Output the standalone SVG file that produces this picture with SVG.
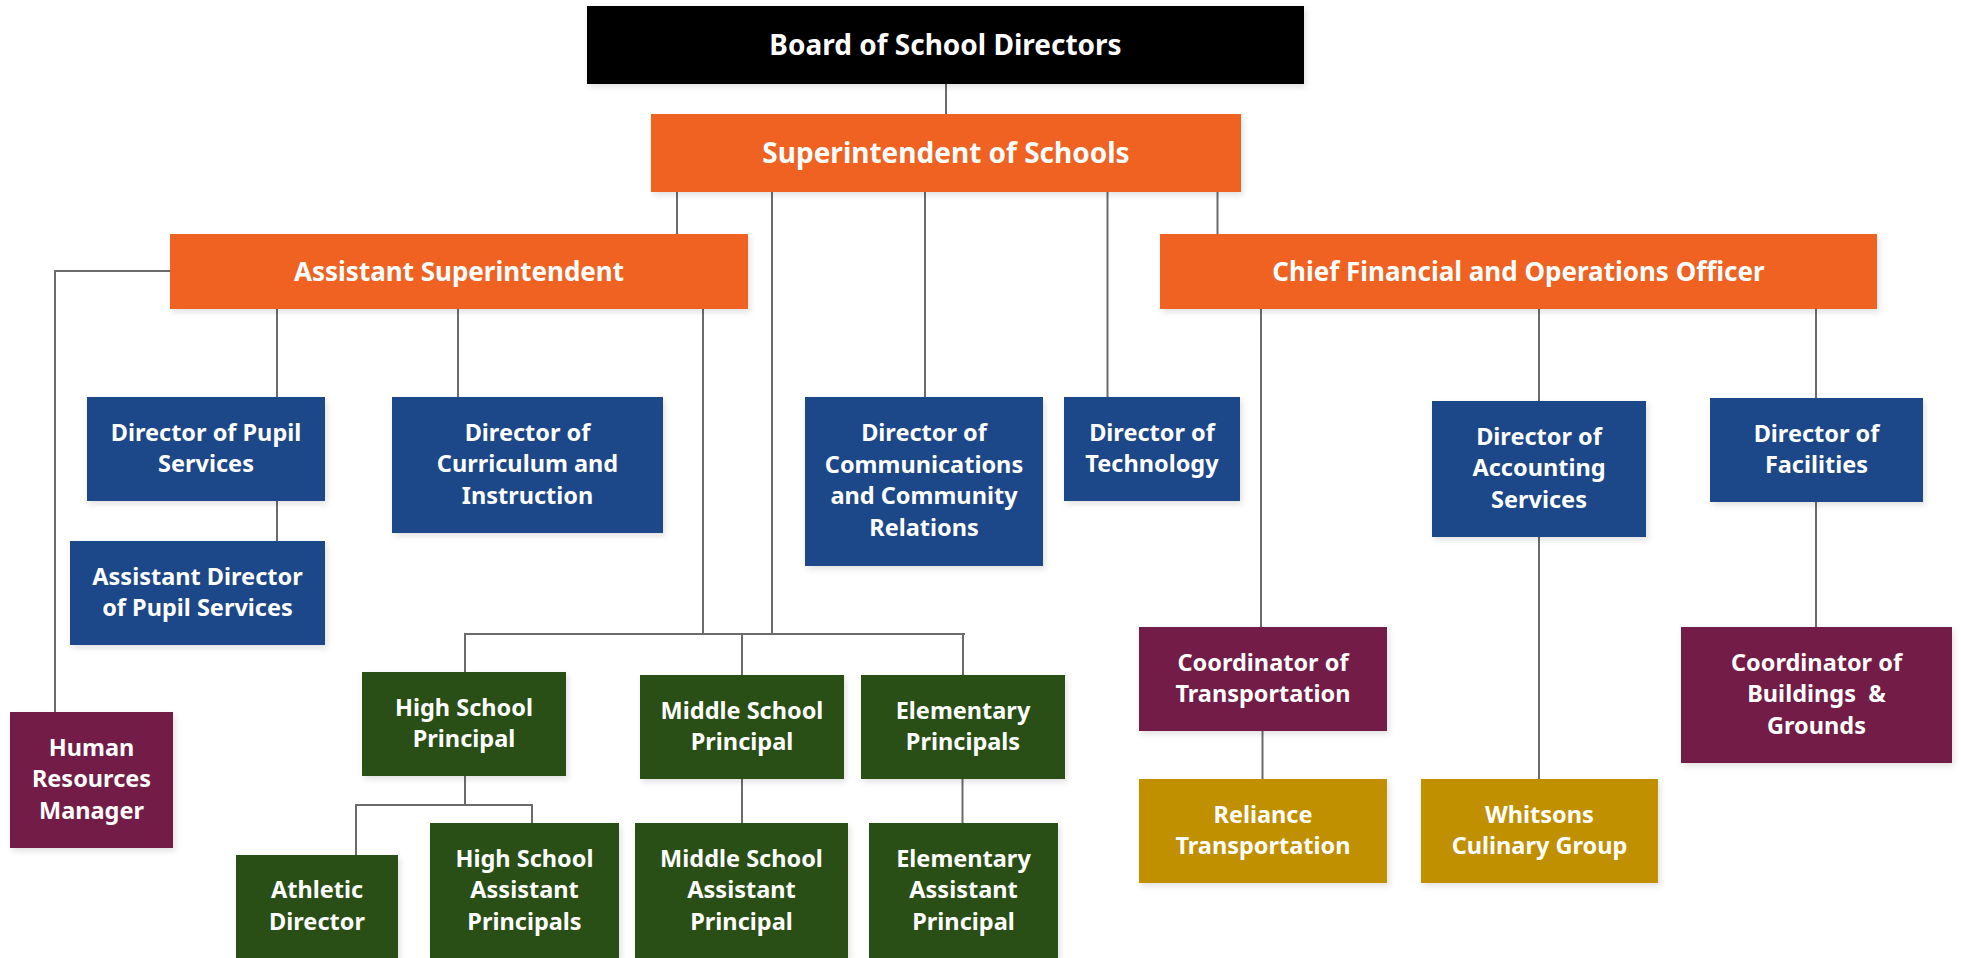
<svg xmlns="http://www.w3.org/2000/svg" width="1961" height="958" viewBox="0 0 1961 958">
<style>
.box{filter:url(#sh)}
.k{fill:#000000}.o{fill:#F06224}.b{fill:#1F4688}.g{fill:#2A5016}.m{fill:#731B46}.y{fill:#C19000}
text{font-family:"Noto Sans","Open Sans","Liberation Sans",sans-serif;font-weight:700;fill:#ffffff;text-anchor:middle;white-space:pre}
.t1{font-size:28px}.t2{font-size:26px}.n{font-size:23.5px;transform:translateY(-1.5px)}
#connectors path{fill:none;stroke:#6b6b6b;stroke-width:2}
</style>
<defs>
<filter id="sh" x="-10%" y="-10%" width="120%" height="130%">
<feDropShadow dx="2" dy="3" stdDeviation="3" flood-color="#000" flood-opacity="0.12"/>
</filter>
</defs>
<rect width="1961" height="958" fill="#ffffff"/>
<g id="connectors">
<path d="M946 84V114"/>
<path d="M677 192V234"/>
<path d="M772 192V634"/>
<path d="M925 192V397"/>
<path d="M1107.5 192V397"/>
<path d="M1217.5 192V234"/>
<path d="M170 271H55V712"/>
<path d="M277 309V397"/>
<path d="M458 309V397"/>
<path d="M703 309V634"/>
<path d="M465 672V634H965"/>
<path d="M742 634V675"/>
<path d="M963 634V675"/>
<path d="M277 501V541"/>
<path d="M465 776V805"/>
<path d="M356 855V805H532V823"/>
<path d="M742 779V823"/>
<path d="M962.5 779V823"/>
<path d="M1261 309V627"/>
<path d="M1262.5 731V779"/>
<path d="M1539 309V401"/>
<path d="M1539 537V779"/>
<path d="M1816 309V398"/>
<path d="M1816 502V627"/>
</g>
<g id="board"><rect class="box k" x="587" y="6" width="717" height="78"/><text class="t1" x="945.5" y="55">Board of School Directors</text></g>
<g id="superintendent"><rect class="box o" x="651" y="114" width="590" height="78"/><text class="t1" x="946" y="163">Superintendent of Schools</text></g>
<g id="assistant-superintendent"><rect class="box o" x="170" y="234" width="578" height="75"/><text class="t2" x="459" y="281">Assistant Superintendent</text></g>
<g id="cfo"><rect class="box o" x="1160" y="234" width="717" height="75"/><text class="t2" x="1518.5" y="281">Chief Financial and Operations Officer</text></g>
<g id="dir-pupil"><rect class="box b" x="87" y="397" width="238" height="104"/><text class="n" x="206" y="442">Director of Pupil</text><text class="n" x="206" y="473.5">Services</text></g>
<g id="dir-curriculum"><rect class="box b" x="392" y="397" width="271" height="136"/><text class="n" x="527.5" y="442">Director of</text><text class="n" x="527.5" y="473.5">Curriculum and</text><text class="n" x="527.5" y="505">Instruction</text></g>
<g id="dir-communications"><rect class="box b" x="805" y="397" width="238" height="169"/><text class="n" x="924" y="442.5">Director of</text><text class="n" x="924" y="474">Communications</text><text class="n" x="924" y="505.5">and Community</text><text class="n" x="924" y="537">Relations</text></g>
<g id="dir-technology"><rect class="box b" x="1064" y="397" width="176" height="104"/><text class="n" x="1152" y="442">Director of</text><text class="n" x="1152" y="473.5">Technology</text></g>
<g id="dir-accounting"><rect class="box b" x="1432" y="401" width="214" height="136"/><text class="n" x="1539" y="446">Director of</text><text class="n" x="1539" y="477.5">Accounting</text><text class="n" x="1539" y="509">Services</text></g>
<g id="dir-facilities"><rect class="box b" x="1710" y="398" width="213" height="104"/><text class="n" x="1816.5" y="443">Director of</text><text class="n" x="1816.5" y="474.5">Facilities</text></g>
<g id="asst-dir-pupil"><rect class="box b" x="70" y="541" width="255" height="104"/><text class="n" x="197.5" y="586">Assistant Director</text><text class="n" x="197.5" y="617.5">of Pupil Services</text></g>
<g id="hr-manager"><rect class="box m" x="10" y="712" width="163" height="136"/><text class="n" x="91.5" y="757">Human</text><text class="n" x="91.5" y="788.5">Resources</text><text class="n" x="91.5" y="820">Manager</text></g>
<g id="hs-principal"><rect class="box g" x="362" y="672" width="204" height="104"/><text class="n" x="464" y="717">High School</text><text class="n" x="464" y="748.5">Principal</text></g>
<g id="ms-principal"><rect class="box g" x="640" y="675" width="204" height="104"/><text class="n" x="742" y="720">Middle School</text><text class="n" x="742" y="751.5">Principal</text></g>
<g id="elem-principals"><rect class="box g" x="861" y="675" width="204" height="104"/><text class="n" x="963" y="720">Elementary</text><text class="n" x="963" y="751.5">Principals</text></g>
<g id="athletic-director"><rect class="box g" x="236" y="855" width="162" height="104"/><text class="n" x="317" y="899">Athletic</text><text class="n" x="317" y="931">Director</text></g>
<g id="hs-asst"><rect class="box g" x="430" y="823" width="189" height="136"/><text class="n" x="524.5" y="868">High School</text><text class="n" x="524.5" y="899.5">Assistant</text><text class="n" x="524.5" y="931">Principals</text></g>
<g id="ms-asst"><rect class="box g" x="635" y="823" width="213" height="136"/><text class="n" x="741.5" y="868">Middle School</text><text class="n" x="741.5" y="899.5">Assistant</text><text class="n" x="741.5" y="931">Principal</text></g>
<g id="elem-asst"><rect class="box g" x="869" y="823" width="189" height="136"/><text class="n" x="963.5" y="868">Elementary</text><text class="n" x="963.5" y="899.5">Assistant</text><text class="n" x="963.5" y="931">Principal</text></g>
<g id="coord-transportation"><rect class="box m" x="1139" y="627" width="248" height="104"/><text class="n" x="1263" y="672">Coordinator of</text><text class="n" x="1263" y="703.5">Transportation</text></g>
<g id="reliance"><rect class="box y" x="1139" y="779" width="248" height="104"/><text class="n" x="1263" y="824">Reliance</text><text class="n" x="1263" y="855.5">Transportation</text></g>
<g id="whitsons"><rect class="box y" x="1421" y="779" width="237" height="104"/><text class="n" x="1539.5" y="824">Whitsons</text><text class="n" x="1539.5" y="855.5">Culinary Group</text></g>
<g id="coord-buildings"><rect class="box m" x="1681" y="627" width="271" height="136"/><text class="n" x="1816.5" y="672">Coordinator of</text><text class="n" x="1816.5" y="703.5">Buildings  &amp;</text><text class="n" x="1816.5" y="735">Grounds</text></g>
</svg>
